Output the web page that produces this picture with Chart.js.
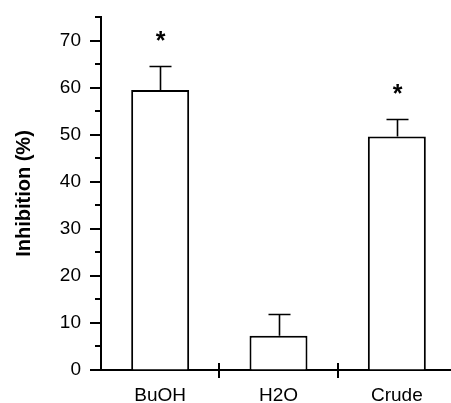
<!DOCTYPE html>
<html><head><meta charset="utf-8">
<script src="https://cdn.jsdelivr.net/npm/chart.js@4/dist/chart.umd.min.js"></script>
<style>
html,body{margin:0;padding:0;background:#fff;overflow:hidden;width:451px;height:403px}
#wrap{position:relative;width:456px;height:403px}
canvas{display:block}
</style></head>
<body><div id="wrap"><canvas id="c" width="456" height="403"></canvas></div>
<script>
const categories = ['BuOH', 'H2O', 'Crude'];
const inhibition = [59.5, 7.3, 49.6];
const errors = [5.0, 4.7, 3.8];
const significance = ['*', '', '*'];
const yTickLabels = [0, 10, 20, 30, 40, 50, 60, 70];
const yMinorStep = 5;
const yMax = 75;

const FONT = '"Liberation Sans", Arial, Helvetica, sans-serif';

const decor = {
  id: 'decor',
  afterDraw(chart) {
    const ctx = chart.ctx;
    const xs = chart.scales.x, ys = chart.scales.y;
    const area = chart.chartArea;
    ctx.save();
    ctx.strokeStyle = '#000';
    ctx.fillStyle = '#000';
    ctx.lineWidth = 2;
    for (let v = 0; v <= yMax; v += yMinorStep) {
      const y = Math.round(ys.getPixelForValue(v));
      const len = yTickLabels.includes(v) ? 11 : 6;
      ctx.beginPath();
      ctx.moveTo(area.left - len, y);
      ctx.lineTo(area.left, y);
      ctx.stroke();
    }
    for (let i = 1; i <= categories.length; i++) {
      const x = Math.round(xs.getPixelForValue(i - 0.5));
      ctx.beginPath();
      ctx.moveTo(x, area.bottom - 7);
      ctx.lineTo(x, area.bottom + 8);
      ctx.stroke();
    }
    ctx.lineWidth = 1.6;
    inhibition.forEach((v, i) => {
      const x = Math.round(xs.getPixelForValue(i)) + 0.5;
      const y0 = ys.getPixelForValue(v);
      const y1 = Math.round(ys.getPixelForValue(v + errors[i])) + 0.5;
      ctx.beginPath();
      ctx.moveTo(x, y0);
      ctx.lineTo(x, y1);
      ctx.moveTo(x - 11, y1);
      ctx.lineTo(x + 11, y1);
      ctx.stroke();
      if (significance[i]) {
        ctx.font = 'bold 25px ' + FONT;
        ctx.textAlign = 'center';
        ctx.textBaseline = 'middle';
        ctx.fillText(significance[i], x, y1 - 24);
      }
    });
    ctx.restore();
  }
};

new Chart(document.getElementById('c'), {
  type: 'bar',
  data: {
    labels: categories,
    datasets: [{
      data: inhibition,
      backgroundColor: '#fff',
      borderColor: '#000',
      borderWidth: 2,
      barPercentage: 0.49,
      categoryPercentage: 1.0
    }]
  },
  options: {
    responsive: false,
    animation: false,
    devicePixelRatio: 1,
    layout: { padding: { top: 17, left: 0, right: 0, bottom: 0 } },
    plugins: { legend: { display: false }, tooltip: { enabled: false } },
    scales: {
      x: {
        type: 'category',
        offset: true,
        grid: { display: true, drawOnChartArea: false, drawTicks: false, offset: true, color: 'rgba(0,0,0,0)' },
        border: { display: true, color: '#000', width: 2 },
        ticks: { color: '#000', font: { family: FONT, size: 19 }, padding: 14, maxRotation: 0 },
        afterFit(s) { s.height = 33; s.paddingLeft = 0; s.paddingRight = 0; }
      },
      y: {
        min: 0, max: yMax,
        grid: { display: true, drawOnChartArea: false, drawTicks: false, color: 'rgba(0,0,0,0)' },
        border: { display: true, color: '#000', width: 2 },
        ticks: {
          stepSize: yMinorStep, color: '#000', padding: 20,
          font: { family: FONT, size: 19 },
          callback: (v) => yTickLabels.includes(v) ? String(v) : ''
        },
        title: { display: true, text: 'Inhibition (%)', color: '#000', font: { family: FONT, size: 20, weight: 'bold' }, padding: { top: 12, bottom: 0 } },
        afterFit(s) { s.width = 101; s.paddingTop = 0; s.paddingBottom = 0; }
      }
    }
  },
  plugins: [decor]
});
</script>
</body></html>
